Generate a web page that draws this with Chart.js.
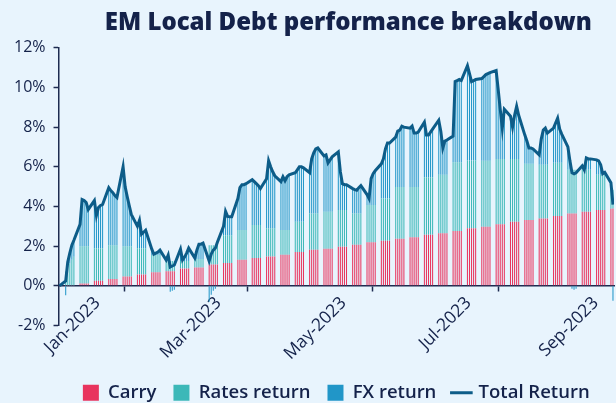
<!DOCTYPE html>
<html lang="en">
<head>
  <meta charset="UTF-8" />
  <title>EM Local Debt performance breakdown</title>
  <script src="https://cdn.jsdelivr.net/npm/chart.js"></script>
  <style>
    html, body {
      margin: 0;
      padding: 0;
      background: #e8f4fd;
    }
    #wrap {
      width: 616px;
      height: 403px;
    }
  </style>
</head>
<body>
  <div id="wrap"><canvas id="debtChart"></canvas></div>

  <script>
    // business days from first to last date (weekends skipped)
    const firstDate = '2022-12-30';
    const lastDate = '2023-09-26';

    const tickDates = ['2023-01-01', '2023-03-01', '2023-05-01', '2023-07-01', '2023-09-01'];
    const tickLabels = ['Jan-2023', 'Mar-2023', 'May-2023', 'Jul-2023', 'Sep-2023'];

    // one line per week
    const totalReturn = [
      0,
      0.25, 1.2, 1.65, 2.05, 2.3,
      3.1, 4.35, 4.3, 4.2, 3.85,
      4.3, 3.55, 3.95, 4.05, 4.1,
      4.95, 4.8, 4.7, 4.55, 4.45,
      6.0, 5.0, 4.5, 4.05, 3.6,
      3.0, 3.3, 2.6, 2.7, 2.8,
      1.85, 1.6, 1.65, 1.7, 1.8,
      1.3, 1.55, 0.95, 1.0, 1.05,
      1.85, 1.3, 1.45, 1.65, 1.9,
      1.4, 1.8, 2.1, 2.1, 2.15,
      1.25, 1.6, 1.8, 1.9, 2.2,
      3.0, 3.75, 3.5, 3.48, 3.48,
      4.4, 4.95, 5.1, 5.1, 5.15,
      5.35, 5.25, 5.15, 5.05, 4.9,
      5.4, 6.3, 6.0, 5.75, 5.55,
      5.25, 5.5, 5.3, 5.5, 5.6,
      5.7, 5.85, 6.0, 6.0, 5.95,
      5.7, 6.4, 6.7, 6.9, 6.95,
      6.55, 6.6, 6.2, 6.35, 6.5,
      6.75, 5.75, 5.15, 5.1, 5.1,
      4.9, 4.85, 4.82, 4.95, 5.05,
      4.6, 4.4, 5.4, 5.65, 5.8,
      6.15, 6.4, 6.9, 7.2, 7.2,
      7.5, 7.8, 7.85, 8.05, 8.0,
      7.95, 8.05, 7.7, 7.7, 7.75,
      8.25, 7.6, 7.6, 7.75, 7.9,
      8.35, 7.8, 6.95, 7.3, 7.35,
      7.55, 10.3, 10.35, 10.4, 10.35,
      11.1, 10.7, 10.3, 10.35, 10.4,
      10.45, 10.55, 10.65, 10.7, 10.75,
      10.85, 9.9, 8.9, 7.95, 8.9,
      8.55, 8.0, 8.6, 9.05, 8.6,
      7.6, 7.3, 6.95, 6.95, 6.9,
      6.6, 7.4, 7.85, 7.95, 7.7,
      7.95, 8.2, 8.45, 7.9, 7.65,
      7.0, 6.3, 5.7, 5.65, 5.7,
      6.05, 5.85, 6.45, 6.4, 6.4,
      6.35, 6.3, 6.1, 5.65, 5.72,
      5.2, 4.1
    ];

    const carry = [
      0,
      0.02, 0.02, 0.02, 0.02, 0.02,
      0.12, 0.12, 0.12, 0.12, 0.12,
      0.25, 0.25, 0.25, 0.25, 0.25,
      0.35, 0.35, 0.35, 0.35, 0.35,
      0.47, 0.47, 0.47, 0.47, 0.47,
      0.57, 0.57, 0.57, 0.57, 0.57,
      0.68, 0.68, 0.68, 0.68, 0.68,
      0.74, 0.74, 0.74, 0.74, 0.74,
      0.87, 0.87, 0.87, 0.87, 0.87,
      0.93, 0.93, 0.93, 0.93, 0.93,
      1.07, 1.07, 1.07, 1.07, 1.07,
      1.15, 1.15, 1.15, 1.15, 1.15,
      1.32, 1.32, 1.32, 1.32, 1.32,
      1.4, 1.4, 1.4, 1.4, 1.4,
      1.48, 1.48, 1.48, 1.48, 1.48,
      1.57, 1.57, 1.57, 1.57, 1.57,
      1.7, 1.7, 1.7, 1.7, 1.7,
      1.82, 1.82, 1.82, 1.82, 1.82,
      1.87, 1.87, 1.87, 1.87, 1.87,
      1.97, 1.97, 1.97, 1.97, 1.97,
      2.07, 2.07, 2.07, 2.07, 2.07,
      2.2, 2.2, 2.2, 2.2, 2.2,
      2.27, 2.27, 2.27, 2.27, 2.27,
      2.37, 2.37, 2.37, 2.37, 2.37,
      2.45, 2.45, 2.45, 2.45, 2.45,
      2.57, 2.57, 2.57, 2.57, 2.57,
      2.65, 2.65, 2.65, 2.65, 2.65,
      2.77, 2.77, 2.77, 2.77, 2.77,
      2.9, 2.9, 2.9, 2.9, 2.9,
      2.98, 2.98, 2.98, 2.98, 2.98,
      3.1, 3.1, 3.1, 3.1, 3.1,
      3.23, 3.23, 3.23, 3.23, 3.23,
      3.32, 3.32, 3.32, 3.32, 3.32,
      3.4, 3.4, 3.4, 3.4, 3.4,
      3.52, 3.52, 3.52, 3.52, 3.52,
      3.65, 3.65, 3.65, 3.65, 3.65,
      3.73, 3.73, 3.73, 3.73, 3.73,
      3.82, 3.82, 3.82, 3.82, 3.82,
      3.88, 3.9
    ];

    const ratesReturn = [
      0,
      0.7, 0.9, 1.1, 1.3, 1.45,
      1.88, 1.88, 1.88, 1.88, 1.88,
      1.65, 1.65, 1.65, 1.65, 1.65,
      1.7, 1.7, 1.7, 1.7, 1.7,
      1.53, 1.53, 1.53, 1.53, 1.53,
      1.33, 1.33, 1.33, 1.33, 1.33,
      0.87, 0.87, 0.87, 0.87, 0.87,
      0.51, 0.51, 0.51, 0.51, 0.51,
      0.38, 0.38, 0.38, 0.38, 0.38,
      0.42, 0.42, 0.42, 0.42, 0.42,
      0.98, 0.98, 0.98, 0.98, 0.98,
      1.4, 1.4, 1.4, 1.4, 1.4,
      1.5, 1.5, 1.5, 1.5, 1.5,
      1.67, 1.67, 1.67, 1.67, 1.67,
      1.42, 1.42, 1.42, 1.42, 1.42,
      1.25, 1.25, 1.25, 1.25, 1.25,
      1.53, 1.53, 1.53, 1.53, 1.53,
      1.83, 1.83, 1.83, 1.83, 1.83,
      1.86, 1.86, 1.86, 1.86, 1.86,
      1.85, 1.85, 1.85, 1.85, 1.85,
      1.58, 1.58, 1.58, 1.58, 1.58,
      1.87, 1.87, 1.87, 1.87, 1.87,
      2.13, 2.13, 2.13, 2.13, 2.13,
      2.61, 2.61, 2.61, 2.61, 2.61,
      2.53, 2.53, 2.53, 2.53, 2.53,
      2.91, 2.91, 2.91, 2.91, 2.91,
      2.95, 2.95, 2.95, 2.95, 2.95,
      3.46, 3.46, 3.46, 3.46, 3.46,
      3.42, 3.42, 3.42, 3.42, 3.42,
      3.32, 3.32, 3.32, 3.32, 3.32,
      3.3, 3.3, 3.3, 3.3, 3.3,
      3.17, 3.17, 3.17, 3.17, 3.17,
      2.83, 2.83, 2.83, 2.83, 2.83,
      2.7, 2.7, 2.7, 2.7, 2.7,
      2.68, 2.68, 2.68, 2.68, 2.68,
      2.2, 2.2, 2.2, 2.2, 2.2,
      2.12, 2.12, 2.12, 2.12, 2.12,
      1.78, 1.78, 1.78, 1.78, 1.78,
      1.0, 0.95
    ];

    const fxReturn = [
      0,
      -0.47, 0.28, 0.53, 0.73, 0.83,
      1.1, 2.35, 2.3, 2.2, 1.85,
      2.4, 1.65, 2.05, 2.15, 2.2,
      2.9, 2.75, 2.65, 2.5, 2.4,
      4.0, 3.0, 2.5, 2.05, 1.6,
      1.1, 1.4, 0.7, 0.8, 0.9,
      0.3, 0.05, 0.1, 0.15, 0.25,
      0.05, 0.3, -0.3, -0.25, -0.2,
      0.6, 0.05, 0.2, 0.4, 0.65,
      0.05, 0.45, 0.75, 0.75, 0.8,
      -0.8, -0.45, -0.25, -0.15, 0.15,
      0.45, 1.2, 0.95, 0.93, 0.93,
      1.58, 2.13, 2.28, 2.28, 2.33,
      2.28, 2.18, 2.08, 1.98, 1.83,
      2.5, 3.4, 3.1, 2.85, 2.65,
      2.43, 2.68, 2.48, 2.68, 2.78,
      2.47, 2.62, 2.77, 2.77, 2.72,
      2.05, 2.75, 3.05, 3.25, 3.3,
      2.82, 2.87, 2.47, 2.62, 2.77,
      2.93, 1.93, 1.33, 1.28, 1.28,
      1.25, 1.2, 1.17, 1.3, 1.4,
      0.53, 0.33, 1.33, 1.58, 1.73,
      1.75, 2.0, 2.5, 2.8, 2.8,
      2.52, 2.82, 2.87, 3.07, 3.02,
      2.97, 3.07, 2.72, 2.72, 2.77,
      2.77, 2.12, 2.12, 2.27, 2.42,
      2.75, 2.2, 1.35, 1.7, 1.75,
      1.32, 4.07, 4.12, 4.17, 4.12,
      4.78, 4.38, 3.98, 4.03, 4.08,
      4.15, 4.25, 4.35, 4.4, 4.45,
      4.45, 3.5, 2.5, 1.55, 2.5,
      2.15, 1.6, 2.2, 2.65, 2.2,
      1.45, 1.15, 0.8, 0.8, 0.75,
      0.5, 1.3, 1.75, 1.85, 1.6,
      1.75, 2.0, 2.25, 1.7, 1.45,
      1.15, 0.45, -0.15, -0.2, -0.15,
      0.2, 0.0, 0.6, 0.55, 0.55,
      0.75, 0.7, 0.5, 0.05, 0.12,
      0.32, -0.75
    ];

    const NAVY = '#14224a';
    const AXIS = '#1d2b50';
    const FONT = "'Open Sans', sans-serif";

    const DAY = 86400000;
    const origin = Date.UTC(2023, 0, 1);
    const dayOf = s => (Date.parse(s) - origin) / DAY;

    const days = [];
    for (let t = Date.parse(firstDate); t <= Date.parse(lastDate); t += DAY) {
      const wd = new Date(t).getUTCDay();
      if (wd !== 0 && wd !== 6) days.push((t - origin) / DAY);
    }
    const tickDays = tickDates.map(dayOf);

    [totalReturn, carry, ratesReturn, fxReturn].forEach(a => {
      if (a.length !== days.length) console.error('length mismatch', a.length, days.length);
    });

    const pts = arr => arr.map((v, i) => ({ x: days[i], y: v }));

    const barStyle = {
      type: 'bar',
      stack: 'parts',
      order: 1,
      barPercentage: 0.5,
      categoryPercentage: 1,
      borderWidth: 0,
      inflateAmount: 0,
      pointStyle: 'rect'
    };

    // title sits a little right of the plot centre in the original
    const titleNudge = {
      id: 'titleNudge',
      afterLayout(chart) {
        if (chart.titleBlock) chart.titleBlock.left += 24;
      }
    };

    new Chart(document.getElementById('debtChart'), {
      data: {
        datasets: [
          { ...barStyle, label: 'Carry', data: pts(carry), backgroundColor: '#e8345e' },
          { ...barStyle, label: 'Rates return', data: pts(ratesReturn), backgroundColor: '#3cb8b8' },
          { ...barStyle, label: 'FX return', data: pts(fxReturn), backgroundColor: '#2196c8' },
          {
            type: 'line',
            label: 'Total Return',
            stack: 'total',
            order: 0,
            data: pts(totalReturn),
            borderColor: '#0d5c88',
            backgroundColor: '#0d5c88',
            borderWidth: 3,
            pointRadius: 0,
            pointStyle: 'line',
            tension: 0,
            fill: false
          }
        ]
      },
      plugins: [titleNudge],
      options: {
        responsive: true,
        maintainAspectRatio: false,
        animation: false,
        layout: { padding: { left: 6, right: 2, top: 0, bottom: -9 } },
        plugins: {
          title: {
            display: true,
            text: 'EM Local Debt performance breakdown',
            color: NAVY,
            fullSize: false,
            font: { family: FONT, size: 24, weight: '800' },
            padding: { top: 9, bottom: 10 }
          },
          legend: {
            position: 'bottom',
            fullSize: false,
            labels: {
              usePointStyle: true,
              boxWidth: 16,
              boxHeight: 16,
              padding: 17,
              color: NAVY,
              font: { family: FONT, size: 18.5, weight: '600' },
              sort: (a, b) => a.datasetIndex - b.datasetIndex
            }
          },
          tooltip: { enabled: false }
        },
        scales: {
          x: {
            type: 'linear',
            position: { y: 0 },
            min: days[0] - 0.5,
            max: days[days.length - 1] + 0.5,
            offset: false,
            stacked: true,
            afterBuildTicks: axis => { axis.ticks = tickDays.map(v => ({ value: v })); },
            ticks: {
              autoSkip: false,
              minRotation: 45,
              maxRotation: 45,
              labelOffset: 34,
              padding: 2,
              color: NAVY,
              font: { family: FONT, size: 17.5 },
              callback: (v, i) => tickLabels[i]
            },
            grid: { drawOnChartArea: false, tickLength: 5, tickColor: AXIS, tickWidth: 1.5 },
            border: { color: AXIS, width: 1.5 }
          },
          gap: {
            type: 'linear',
            axis: 'x',
            position: 'bottom',
            grid: { display: false },
            border: { display: false },
            ticks: { display: false },
            afterFit: s => { s.height = 41; }
          },
          y: {
            min: -2,
            max: 12,
            stacked: true,
            ticks: {
              stepSize: 2,
              padding: 8,
              color: NAVY,
              font: { family: FONT, size: 16 },
              callback: v => v + '%'
            },
            grid: { drawOnChartArea: false, tickLength: 5, tickColor: AXIS, tickWidth: 1.5 },
            border: { color: AXIS, width: 1.5 }
          }
        }
      }
    });
  </script>
</body>
</html>
